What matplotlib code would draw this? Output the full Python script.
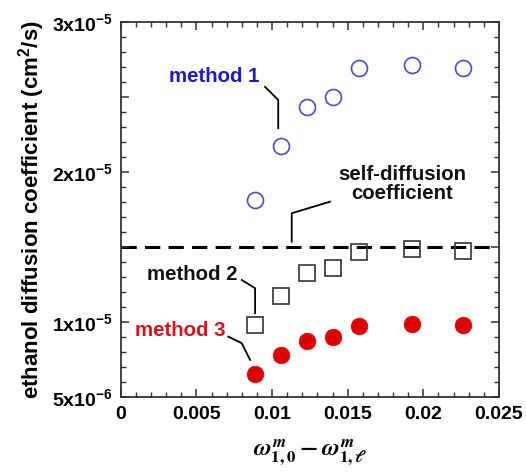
import matplotlib
matplotlib.use("Agg")
import matplotlib.pyplot as plt
from matplotlib.ticker import MultipleLocator, FixedLocator, FixedFormatter

plt.rcParams['font.family'] = ['Liberation Sans', 'DejaVu Sans']
plt.rcParams['font.weight'] = 'bold'
plt.rcParams['mathtext.fontset'] = 'custom'
plt.rcParams['mathtext.rm'] = 'Liberation Sans:bold'
plt.rcParams['mathtext.bf'] = 'Liberation Sans:bold'
plt.rcParams['mathtext.it'] = 'Liberation Sans:bold:italic'

# mass-fraction difference
x_vals = [0.00888, 0.01057, 0.01229, 0.01405, 0.01577, 0.01923, 0.02264]
# diffusion coefficients (cm^2/s)
method1 = [18.1e-6, 21.7e-6, 24.3e-6, 25.0e-6, 26.9e-6, 27.1e-6, 26.9e-6]
method2 = [9.8e-6, 11.75e-6, 13.26e-6, 13.6e-6, 14.66e-6, 14.86e-6, 14.76e-6]
method3 = [6.54e-6, 7.8e-6, 8.78e-6, 9.04e-6, 9.75e-6, 9.87e-6, 9.82e-6]
self_diffusion = 1.5e-5

y_tick_values = [5e-6, 1e-5, 1.5e-5, 2e-5, 2.5e-5, 3e-5]
y_tick_labels = ['5x10$^{-6}$', '1x10$^{-5}$', '', '2x10$^{-5}$', '', '3x10$^{-5}$']
x_tick_values = [0, 0.005, 0.01, 0.015, 0.02, 0.025]
x_tick_labels = ['0', '0.005', '0.01', '0.015', '0.02', '0.025']

fig = plt.figure(figsize=(5.26, 4.74), dpi=100)
ax = fig.add_axes([0.2295, 0.1618, 0.9487 - 0.2295, 0.9542 - 0.1618])

ax.axhline(self_diffusion, color='black', lw=2.2, dashes=(5, 2.7), zorder=1)
ax.plot(x_vals, method1, 'o', ms=11.5, mfc='none', mec='#4c4cc4', mew=1.2, zorder=3)
ax.plot(x_vals, method2, 's', ms=11.5, mfc='none', mec='#333333', mew=1.2, zorder=3)
ax.plot(x_vals, method3, 'o', ms=12, mfc='#dd0000', mec='#dd0000', mew=0.5, zorder=3)

ax.set_xlim(0, 0.025)
ax.set_ylim(5e-6, 3e-5)

ax.xaxis.set_major_locator(FixedLocator(x_tick_values))
ax.xaxis.set_major_formatter(FixedFormatter(x_tick_labels))
ax.xaxis.set_minor_locator(MultipleLocator(0.001))
ax.yaxis.set_major_locator(FixedLocator(y_tick_values))
ax.yaxis.set_major_formatter(FixedFormatter(y_tick_labels))
ax.yaxis.set_minor_locator(MultipleLocator(1e-6))

ax.tick_params(which='both', direction='in', top=True, right=True, color='#333333')
ax.tick_params(which='major', length=6, width=1.1, labelsize=14, pad=6)
ax.tick_params(which='minor', length=3.5, width=1.0)
for sp in ax.spines.values():
    sp.set_linewidth(1.3)
    sp.set_color('#333333')

ax.set_ylabel('ethanol diffusion coefficient (cm$^{2}$/s)', fontsize=16, fontweight='bold', labelpad=3)
ax.set_xlabel(r'$\boldsymbol{\omega^{m}_{1,0} - \omega^{m}_{1,\ell}}$', fontsize=17.5,
              math_fontfamily='stix', labelpad=11)

# annotations with leader lines (data coordinates)
ax.text(0.00617, 2.634e-5, 'method 1', color='#1a1acc', fontsize=14.7, fontweight='bold', ha='center', va='center')
ax.plot([0.00954, 0.01041, 0.01041], [2.566e-5, 2.479e-5, 2.291e-5], color='black', lw=1.3)

ax.text(0.01859, 1.919e-5, 'self-diffusion\ncoefficient', color='#111111', fontsize=14.7,
        fontweight='bold', ha='center', va='center', linespacing=1.05)
ax.plot([0.01383, 0.0113, 0.0113], [1.802e-5, 1.725e-5, 1.536e-5], color='black', lw=1.3)

ax.text(0.00474, 1.315e-5, 'method 2', color='#111111', fontsize=14.7, fontweight='bold', ha='center', va='center')
ax.plot([0.0080, 0.00888, 0.00888], [1.281e-5, 1.226e-5, 1.060e-5], color='black', lw=1.3)

ax.text(0.00392, 9.47e-6, 'method 3', color='#d8101c', fontsize=14.7, fontweight='bold', ha='center', va='center')
ax.plot([0.00711, 0.0080, 0.00855], [9.04e-6, 8.60e-6, 7.49e-6], color='black', lw=1.3)

fig.savefig('out.png', dpi=100)
